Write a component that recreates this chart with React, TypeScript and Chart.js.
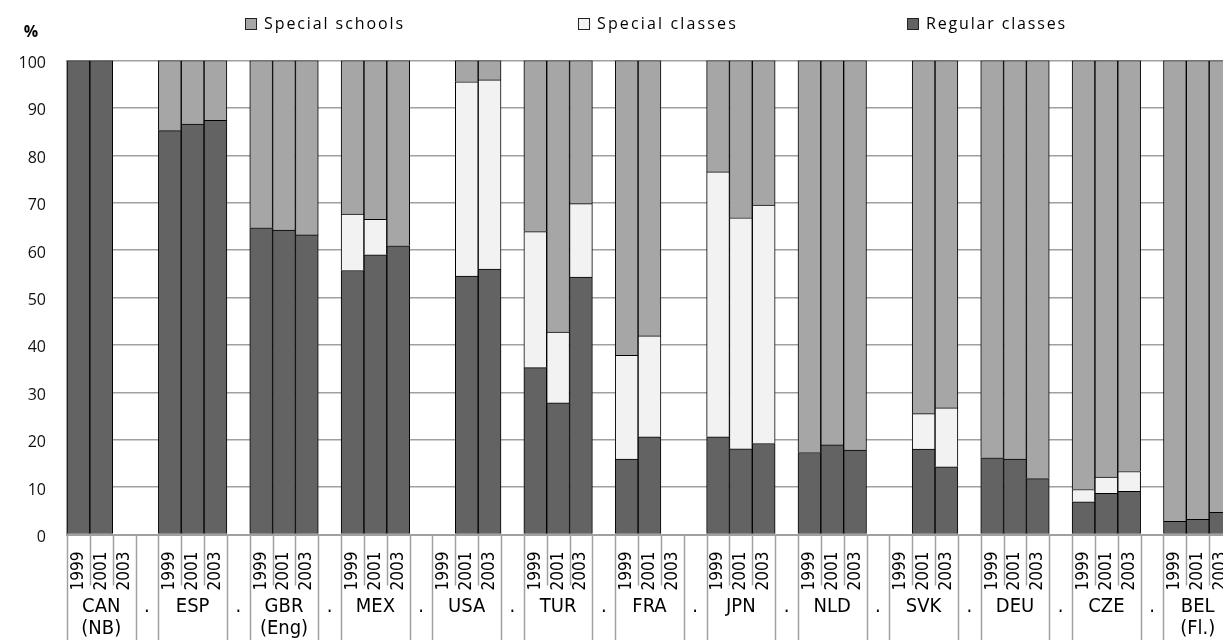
import React, { useEffect, useRef } from 'react';
import { Chart, registerables } from 'chart.js';

Chart.register(...registerables);

// ---------- data ----------
const countries: string[][] = [
  ['CAN', '(NB)'], ['ESP'], ['GBR', '(Eng)'], ['MEX'], ['USA'], ['TUR'], ['FRA'],
  ['JPN'], ['NLD'], ['SVK'], ['DEU'], ['CZE'], ['BEL', '(Fl.)'],
];
const years = ['1999', '2001', '2003'];
const separatorLabel = '.';

// values per country, in the order of `years`
const regularClasses: (number | null)[] = [
  100, 100, null,
  85.2, 86.6, 87.4,
  64.7, 64.2, 63.2,
  55.7, 59.0, 60.9,
  null, 54.5, 56.0,
  35.2, 27.8, 54.3,
  15.9, 20.6, null,
  20.6, 18.1, 19.2,
  17.3, 18.9, 17.8,
  null, 18.0, 14.3,
  16.2, 15.9, 11.8,
  6.9, 8.7, 9.1,
  2.8, 3.2, 4.7,
];
const specialClasses: (number | null)[] = [
  null, null, null,
  null, null, null,
  null, null, null,
  11.9, 7.5, null,
  null, 41.0, 39.9,
  28.7, 14.9, 15.5,
  21.9, 21.3, null,
  55.9, 48.7, 50.3,
  null, null, null,
  null, 7.5, 12.4,
  null, null, null,
  2.6, 3.4, 4.2,
  null, null, null,
];
const specialSchools: (number | null)[] = [
  null, null, null,
  14.8, 13.4, 12.6,
  35.3, 35.8, 36.8,
  32.4, 33.5, 39.1,
  null, 4.5, 4.1,
  36.1, 57.3, 30.2,
  62.2, 58.1, null,
  23.5, 33.2, 30.5,
  82.7, 81.1, 82.2,
  null, 74.5, 73.3,
  83.8, 84.1, 88.2,
  90.5, 87.9, 86.7,
  97.2, 96.8, 95.3,
];

// ---------- build category slots ----------
const labels: string[] = [];
const slotGroup: number[] = [];
const slotIndex: number[] = []; // index into data arrays, -1 for separators
countries.forEach((_, ci) => {
  years.forEach((y, yi) => {
    labels.push(y);
    slotGroup.push(ci);
    slotIndex.push(ci * years.length + yi);
  });
  if (ci < countries.length - 1) {
    labels.push('');
    slotGroup.push(-1);
    slotIndex.push(-1);
  }
});
const expand = (arr: (number | null)[]) => slotIndex.map((k) => (k < 0 ? null : arr[k]));

const COLORS = {
  schools: '#a6a6a6',
  classes: '#f2f2f2',
  regular: '#636363',
};

const legendItems = [
  { label: 'Special schools', color: COLORS.schools },
  { label: 'Special classes', color: COLORS.classes },
  { label: 'Regular classes', color: COLORS.regular },
];

const axisFont = "'DejaVu Sans Condensed', 'Liberation Sans', sans-serif";
const textFont = "'Open Sans', 'Liberation Sans', sans-serif";

const decorPlugin = {
  id: 'decor',
  afterDraw(chart: any) {
    const { ctx, chartArea, scales } = chart;
    const x = scales.x;
    const n = labels.length;
    const step = x.getPixelForTick(1) - x.getPixelForTick(0);
    ctx.save();
    // separator lines below the axis
    ctx.strokeStyle = '#a0a0a0';
    ctx.lineWidth = 1.5;
    for (let i = 0; i <= n; i++) {
      const bx = Math.round(x.getPixelForTick(Math.min(i, n - 1)) + (i === n ? step / 2 : -step / 2)) + 0.5;
      const l = i > 0 ? slotGroup[i - 1] : -2;
      const r = i < n ? slotGroup[i] : -3;
      const short = l >= 0 && l === r;
      const yEnd = short ? chartArea.bottom + 51 : chart.height;
      ctx.beginPath();
      ctx.moveTo(bx, chartArea.bottom);
      ctx.lineTo(bx, yEnd);
      ctx.stroke();
    }
    // country labels
    ctx.fillStyle = '#000';
    ctx.font = `20px ${axisFont}`;
    ctx.textAlign = 'center';
    ctx.textBaseline = 'middle';
    let slot = 0;
    countries.forEach((lines, ci) => {
      const cx = x.getPixelForTick(slot + 1);
      lines.forEach((t, li) => ctx.fillText(t, cx, chartArea.bottom + 72 + li * 22));
      slot += years.length;
      if (ci < countries.length - 1) {
        ctx.fillText(separatorLabel, x.getPixelForTick(slot), chartArea.bottom + 72);
        slot += 1;
      }
    });
    // legend
    const boxX = [245, 578, 907];
    const cy = 24;
    legendItems.forEach((it, i) => {
      ctx.fillStyle = it.color;
      ctx.fillRect(boxX[i] + 0.5, cy - 6 + 0.5, 11, 11);
      ctx.strokeStyle = '#222';
      ctx.lineWidth = 1;
      ctx.strokeRect(boxX[i] + 0.5, cy - 6 + 0.5, 11, 11);
      ctx.fillStyle = '#000';
      ctx.font = `16px ${textFont}`;
      ctx.textAlign = 'left';
      ctx.textBaseline = 'middle';
      const w = ctx.measureText(it.label).width;
      const target = 141;
      (ctx as any).letterSpacing = `${Math.max(0, (target - w) / it.label.length)}px`;
      ctx.fillText(it.label, boxX[i] + 19, cy);
      (ctx as any).letterSpacing = '0px';
    });
    // unit
    ctx.font = `bold 16px ${textFont}`;
    ctx.textAlign = 'center';
    ctx.fillText('%', 31, 32);
    ctx.restore();
  },
};

export default function App() {
  const ref = useRef<HTMLCanvasElement | null>(null);
  useEffect(() => {
    if (!ref.current) return;
    const chart = new Chart(ref.current, {
      type: 'bar',
      data: {
        labels,
        datasets: [
          { label: 'Regular classes', data: expand(regularClasses), backgroundColor: COLORS.regular },
          { label: 'Special classes', data: expand(specialClasses), backgroundColor: COLORS.classes },
          { label: 'Special schools', data: expand(specialSchools), backgroundColor: COLORS.schools },
        ].map((d) => ({
          ...d,
          borderColor: '#000',
          borderWidth: 1,
          borderSkipped: 'start' as const,
          barPercentage: 1,
          categoryPercentage: 1,
        })),
      },
      options: {
        animation: false,
        responsive: false,
        devicePixelRatio: 1,
        layout: { padding: { top: 60.5, right: 8, left: 0, bottom: 0 } },
        plugins: { legend: { display: false }, tooltip: { enabled: false } },
        scales: {
          x: {
            stacked: true,
            offset: true,
            grid: { display: false },
            border: { display: true, color: '#a0a0a0', width: 2 },
            ticks: {
              autoSkip: false,
              minRotation: 90,
              maxRotation: 90,
              padding: 9,
              color: '#000',
              font: { family: axisFont, size: 17 },
            },
            afterFit: (s: any) => {
              s.height = 105.5;
              s.paddingLeft = 0;
              s.paddingRight = 0;
            },
          },
          y: {
            stacked: true,
            min: 0,
            max: 100,
            grid: { color: '#a0a0a0', lineWidth: 1.5, drawTicks: false },
            border: { display: true, color: '#a0a0a0', width: 1.5 },
            ticks: {
              stepSize: 10,
              padding: 21,
              labelOffset: 3,
              color: '#111',
              font: { family: textFont, size: 16 },
            },
            afterFit: (s: any) => { s.width = 67; },
          },
        },
      },
      plugins: [decorPlugin],
    });
    return () => chart.destroy();
  }, []);
  return (
    <div style={{ position: 'fixed', left: 0, top: 0, width: 1223, height: 640, overflow: 'hidden', background: '#fff' }}>
      <canvas ref={ref} width={1240} height={640} style={{ display: 'block' }} />
    </div>
  );
}
